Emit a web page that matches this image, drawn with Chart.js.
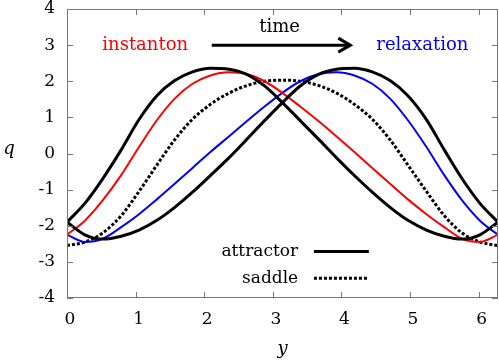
<!DOCTYPE html>
<html>
<head>
<meta charset="utf-8">
<script src="https://cdn.jsdelivr.net/npm/chart.js@4.4.1/dist/chart.umd.min.js"></script>
<style>
  html, body { margin: 0; padding: 0; background: #fff; }
  canvas { display: block; }
</style>
</head>
<body>
<canvas id="chart" width="499" height="362"></canvas>
<script>
// sample positions along y (0 .. 2pi)
const yPos = [0, 0.26, 0.52, 0.79, 1.05, 1.31, 1.57, 1.83, 2.09, 2.36, 2.62, 2.88, 3.14,
              3.40, 3.67, 3.93, 4.19, 4.45, 4.71, 4.97, 5.24, 5.50, 5.76, 6.02, 6.2832];

// q values
const attractorA = [-1.90, -1.38, -0.70, 0.10, 0.94, 1.60, 2.02, 2.26, 2.36, 2.33, 2.19, 1.87, 1.41,
                    0.91, 0.39, -0.12, -0.61, -1.07, -1.49, -1.85, -2.12, -2.29, -2.37, -2.25, -1.90];
const attractorB = [-1.90, -2.25, -2.37, -2.29, -2.12, -1.85, -1.49, -1.07, -0.61, -0.12, 0.39, 0.91, 1.41,
                    1.87, 2.19, 2.33, 2.36, 2.26, 2.02, 1.60, 0.94, 0.10, -0.70, -1.38, -1.90];
const instanton = [-2.25, -1.86, -1.30, -0.60, 0.18, 0.92, 1.52, 1.93, 2.16, 2.25, 2.20, 2.00, 1.68,
                   1.30, 0.89, 0.47, 0.04, -0.40, -0.84, -1.27, -1.68, -2.04, -2.36, -2.45, -2.25];
const relaxation = [-2.25, -2.45, -2.36, -2.04, -1.68, -1.27, -0.84, -0.40, 0.04, 0.47, 0.89, 1.30, 1.68,
                    2.00, 2.20, 2.25, 2.16, 1.93, 1.52, 0.92, 0.18, -0.60, -1.30, -1.86, -2.25];
const saddle = [-2.55, -2.45, -2.20, -1.72, -1.05, -0.32, 0.38, 0.95, 1.36, 1.67, 1.88, 2.00, 2.03,
                2.00, 1.88, 1.67, 1.36, 0.95, 0.38, -0.32, -1.05, -1.72, -2.20, -2.45, -2.55];

const xTicks = [0, 1, 2, 3, 4, 5, 6];
const yTicks = [-4, -3, -2, -1, 0, 1, 2, 3, 4];
const legendNames = ['attractor', 'saddle'];

const FONT = '"DejaVu Serif", "Liberation Serif", serif';

function pts(vals) {
    return vals.map((v, i) => ({ x: yPos[i], y: v }));
}

const lineBase = { pointRadius: 0, cubicInterpolationMode: 'monotone', fill: false, borderCapStyle: 'butt' };

// frame, inward ticks, labels, arrow and legend
const decor = {
    id: 'decor',
    afterDatasetsDraw(chart) {
        const { ctx, chartArea: a, scales: { x, y } } = chart;
        ctx.save();
        ctx.strokeStyle = '#777';
        ctx.lineWidth = 1;
        ctx.beginPath();
        xTicks.forEach(v => {
            const px = Math.round(x.getPixelForValue(v)) + 0.5;
            ctx.moveTo(px, a.bottom); ctx.lineTo(px, a.bottom - 6);
            ctx.moveTo(px, a.top); ctx.lineTo(px, a.top + 6);
        });
        yTicks.forEach(v => {
            const py = Math.round(y.getPixelForValue(v)) + 0.5;
            ctx.moveTo(a.left, py); ctx.lineTo(a.left + 6, py);
            ctx.moveTo(a.right, py); ctx.lineTo(a.right - 6, py);
        });
        ctx.stroke();
        ctx.strokeRect(a.left + 0.5, a.top + 0.5, a.right - a.left - 1, a.bottom - a.top - 1);

        // axis titles
        ctx.fillStyle = '#000';
        ctx.font = 'italic 18px ' + FONT;
        ctx.textAlign = 'center';
        ctx.textBaseline = 'middle';
        ctx.fillText('q', 9, (a.top + a.bottom) / 2 - 4);
        ctx.fillText('y', (a.left + a.right) / 2, 349);

        // annotations
        ctx.font = '18px ' + FONT;
        ctx.fillStyle = '#ff0000';
        ctx.fillText('instanton', x.getPixelForValue(1.14), y.getPixelForValue(3.0));
        ctx.fillStyle = '#0000ff';
        ctx.fillText('relaxation', x.getPixelForValue(5.18), y.getPixelForValue(3.0));
        ctx.fillStyle = '#000';
        ctx.fillText('time', x.getPixelForValue(3.1), y.getPixelForValue(3.5));

        // arrow
        const ax0 = x.getPixelForValue(2.11), ax1 = x.getPixelForValue(4.13), ay = y.getPixelForValue(3.0);
        ctx.strokeStyle = '#000';
        ctx.lineWidth = 3;
        ctx.beginPath();
        ctx.moveTo(ax0, ay); ctx.lineTo(ax1 - 1, ay);
        ctx.stroke();
        ctx.beginPath();
        ctx.moveTo(ax1 - 12, ay - 7); ctx.lineTo(ax1, ay); ctx.lineTo(ax1 - 12, ay + 7);
        ctx.stroke();

        // legend
        ctx.font = '17px ' + FONT;
        ctx.textAlign = 'right';
        const lx = x.getPixelForValue(3.37), l0 = x.getPixelForValue(3.6), l1 = x.getPixelForValue(4.4);
        [[legendNames[0], -2.71, chart.data.datasets[0]], [legendNames[1], -3.45, chart.data.datasets[4]]]
            .forEach(([name, qv, ds]) => {
                const py = y.getPixelForValue(qv);
                ctx.fillStyle = '#000';
                ctx.fillText(name, lx, py);
                ctx.strokeStyle = ds.borderColor;
                ctx.lineWidth = ds.borderWidth;
                ctx.setLineDash(ds.borderDash || []);
                ctx.beginPath();
                ctx.moveTo(l0, py); ctx.lineTo(l1, py);
                ctx.stroke();
            });
        ctx.restore();
    }
};

new Chart(document.getElementById('chart').getContext('2d'), {
    type: 'line',
    data: {
        datasets: [
            { ...lineBase, label: 'attractor', data: pts(attractorA), borderColor: '#000', borderWidth: 3 },
            { ...lineBase, label: 'attractor', data: pts(attractorB), borderColor: '#000', borderWidth: 3 },
            { ...lineBase, label: 'instanton', data: pts(instanton), borderColor: '#ff0000', borderWidth: 2 },
            { ...lineBase, label: 'relaxation', data: pts(relaxation), borderColor: '#0000ff', borderWidth: 2 },
            { ...lineBase, label: 'saddle', data: pts(saddle), borderColor: '#000', borderWidth: 3, borderDash: [3, 2] }
        ]
    },
    options: {
        responsive: false,
        animation: false,
        devicePixelRatio: 1,
        layout: { padding: { top: 9, right: 1, left: 0, bottom: 0 } },
        plugins: { legend: { display: false }, tooltip: { enabled: false } },
        scales: {
            x: {
                type: 'linear',
                min: 0,
                max: 6.2832,
                afterBuildTicks: s => { s.ticks = xTicks.map(v => ({ value: v })); },
                afterFit: s => { s.height = 64; s.paddingLeft = 0; s.paddingRight = 0; },
                grid: { display: false, drawTicks: false },
                border: { display: false },
                ticks: { padding: 11, labelOffset: 3, color: '#000', font: { family: FONT, size: 17 } }
            },
            y: {
                min: -4,
                max: 4,
                afterBuildTicks: s => { s.ticks = yTicks.map(v => ({ value: v })); },
                afterFit: s => { s.width = 67; s.paddingTop = 0; s.paddingBottom = 0; },
                grid: { display: false, drawTicks: false },
                border: { display: false },
                ticks: { padding: 12, color: '#000', font: { family: FONT, size: 17 } }
            }
        }
    },
    plugins: [decor]
});
</script>
</body>
</html>
